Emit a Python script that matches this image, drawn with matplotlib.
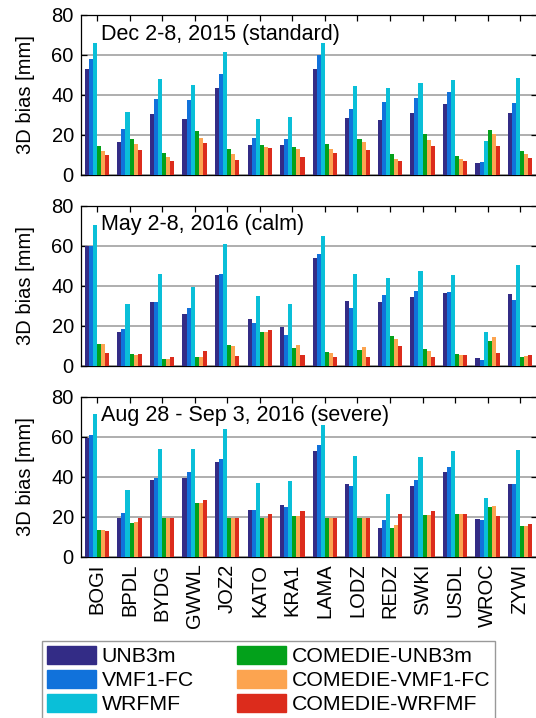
#!/usr/bin/env python3

import matplotlib
matplotlib.use("Agg")
import matplotlib.pyplot as plt
import numpy as np

plt.rcParams["font.family"] = ["Liberation Sans", "DejaVu Sans"]

STATIONS = ["BOGI", "BPDL", "BYDG", "GWWL", "JOZ2", "KATO", "KRA1",
            "LAMA", "LODZ", "REDZ", "SWKI", "USDL", "WROC", "ZYWI"]

MODELS = ["UNB3m", "VMF1-FC", "WRFMF",
          "COMEDIE-UNB3m", "COMEDIE-VMF1-FC", "COMEDIE-WRFMF"]
COLORS = ["#332C86", "#1172DB", "#0ABFD8", "#03A11B", "#FCA450", "#DC2C1C"]

PERIODS = ["Dec 2-8, 2015 (standard)",
           "May 2-8, 2016 (calm)",
           "Aug 28 - Sep 3, 2016 (severe)"]

# 3D bias [mm] per station, one list per model
dec2015_unb3m = [53.0, 16.5, 30.5, 28.0, 43.5, 15.0, 15.0, 53.0, 28.5, 27.5, 31.0, 35.5, 6.0, 31.0]
dec2015_vmf1 = [58.0, 23.0, 38.0, 37.5, 50.5, 18.5, 18.0, 60.0, 33.0, 36.5, 38.5, 41.5, 6.5, 36.0]
dec2015_wrfmf = [66.0, 31.5, 48.0, 45.0, 61.5, 28.0, 29.0, 66.0, 44.5, 43.5, 46.0, 47.5, 17.0, 48.5]
dec2015_c_unb3m = [14.5, 18.0, 11.0, 22.0, 13.0, 15.0, 14.0, 15.5, 18.0, 10.5, 20.5, 9.5, 22.5, 12.0]
dec2015_c_vmf1 = [12.0, 15.5, 9.0, 18.5, 10.5, 14.0, 13.0, 13.0, 16.5, 8.0, 17.5, 8.0, 20.5, 10.5]
dec2015_c_wrfmf = [10.0, 12.5, 7.0, 16.0, 7.5, 13.5, 9.0, 11.0, 12.5, 7.0, 14.5, 7.0, 14.5, 8.5]

may2016_unb3m = [60.0, 17.0, 32.0, 26.0, 45.5, 23.5, 19.5, 54.0, 32.5, 32.0, 34.5, 36.5, 4.0, 36.0]
may2016_vmf1 = [60.0, 18.5, 32.0, 29.0, 46.0, 21.5, 15.5, 56.0, 29.0, 35.5, 37.5, 37.0, 3.0, 33.0]
may2016_wrfmf = [70.5, 31.0, 46.0, 39.5, 61.0, 35.0, 31.0, 65.0, 46.0, 44.0, 47.5, 45.5, 17.0, 50.5]
may2016_c_unb3m = [11.0, 6.0, 3.5, 4.5, 10.5, 17.0, 9.0, 7.0, 8.0, 15.0, 8.5, 6.0, 12.5, 4.5]
may2016_c_vmf1 = [11.0, 5.5, 3.5, 4.5, 10.0, 17.0, 10.5, 6.5, 9.5, 13.5, 7.5, 5.5, 14.5, 5.0]
may2016_c_wrfmf = [6.5, 6.0, 4.5, 7.5, 5.0, 18.0, 5.5, 4.5, 4.5, 10.0, 4.5, 5.5, 6.5, 5.5]

aug2016_unb3m = [59.5, 19.5, 38.5, 39.5, 47.5, 23.5, 26.0, 53.0, 36.5, 14.5, 35.5, 42.5, 19.0, 36.5]
aug2016_vmf1 = [61.0, 22.0, 39.5, 42.5, 49.0, 23.5, 25.0, 56.0, 35.5, 18.5, 38.5, 45.0, 18.5, 36.5]
aug2016_wrfmf = [71.5, 33.5, 54.0, 54.0, 64.0, 37.0, 38.0, 66.0, 50.5, 31.5, 50.0, 53.0, 29.5, 53.5]
aug2016_c_unb3m = [13.5, 17.0, 19.5, 27.0, 19.5, 19.5, 20.5, 19.5, 19.5, 14.5, 21.0, 21.5, 25.0, 15.5]
aug2016_c_vmf1 = [13.5, 17.5, 19.5, 27.0, 19.5, 19.5, 20.5, 19.5, 19.5, 16.0, 21.0, 21.5, 25.5, 15.5]
aug2016_c_wrfmf = [13.0, 19.5, 19.5, 28.5, 19.5, 21.5, 23.0, 19.5, 19.5, 21.5, 23.0, 21.5, 20.5, 16.5]

PERIOD_DATA = [
    [dec2015_unb3m, dec2015_vmf1, dec2015_wrfmf, dec2015_c_unb3m, dec2015_c_vmf1, dec2015_c_wrfmf],
    [may2016_unb3m, may2016_vmf1, may2016_wrfmf, may2016_c_unb3m, may2016_c_vmf1, may2016_c_wrfmf],
    [aug2016_unb3m, aug2016_vmf1, aug2016_wrfmf, aug2016_c_unb3m, aug2016_c_vmf1, aug2016_c_wrfmf],
]

BAR_W = 0.125
W, H = 536, 718


def draw_panel(ax, series, title, show_xlabels):
    x = np.arange(1, len(STATIONS) + 1)
    n = len(series)
    for i, (vals, color) in enumerate(zip(series, COLORS)):
        ax.bar(x + (i - (n - 1) / 2) * BAR_W, vals, width=BAR_W,
               color=color, linewidth=0, zorder=3)

    ax.set_xlim(0.5, len(STATIONS) + 0.5)
    ax.set_ylim(0, 80)
    ax.set_yticks([0, 20, 40, 60, 80])
    ax.set_xticks(x)
    ax.yaxis.grid(True, color="#a8a8a8", linewidth=1.3, zorder=0)
    ax.set_axisbelow(True)
    ax.tick_params(direction="in", length=4, width=0.9, top=True, right=True,
                   labelsize=14.5, pad=5)
    if show_xlabels:
        ax.set_xticklabels(STATIONS, rotation=90, fontsize=14.5)
    else:
        ax.set_xticklabels([])
    for sp in ax.spines.values():
        sp.set_linewidth(0.9)

    ax.set_ylabel("3D bias [mm]", fontsize=14.5)
    ax.yaxis.set_label_coords(-0.1, 0.5)
    ax.text(0.044, 0.88, title, transform=ax.transAxes, fontsize=15.5,
            va="center", ha="left")


def main():
    fig = plt.figure(figsize=(W / 100, H / 100), dpi=100)
    left = 80.7 / W
    width = 455.8 / W
    tops = [15.0, 205.7, 396.7]
    h = 160.0

    for k, (top, series, title) in enumerate(zip(tops, PERIOD_DATA, PERIODS)):
        ax = fig.add_axes([left, 1 - (top + h) / H, width, h / H])
        draw_panel(ax, series, title, show_xlabels=(k == 2))

    handles = [plt.Rectangle((0, 0), 1, 1, color=c) for c in COLORS]
    leg = fig.legend(handles, MODELS, ncol=2, loc="upper left",
                     bbox_to_anchor=(42 / W, 1 - 641 / H),
                     fontsize=15.3, frameon=True, fancybox=False,
                     handlelength=2.3, handleheight=0.9, handletextpad=0.25,
                     columnspacing=2.05, labelspacing=0.18,
                     borderpad=0.25, borderaxespad=0)
    leg.get_frame().set_edgecolor("#808080")
    leg.get_frame().set_linewidth(1.0)

    fig.savefig("out.png", dpi=100)
    plt.close(fig)


if __name__ == "__main__":
    main()
